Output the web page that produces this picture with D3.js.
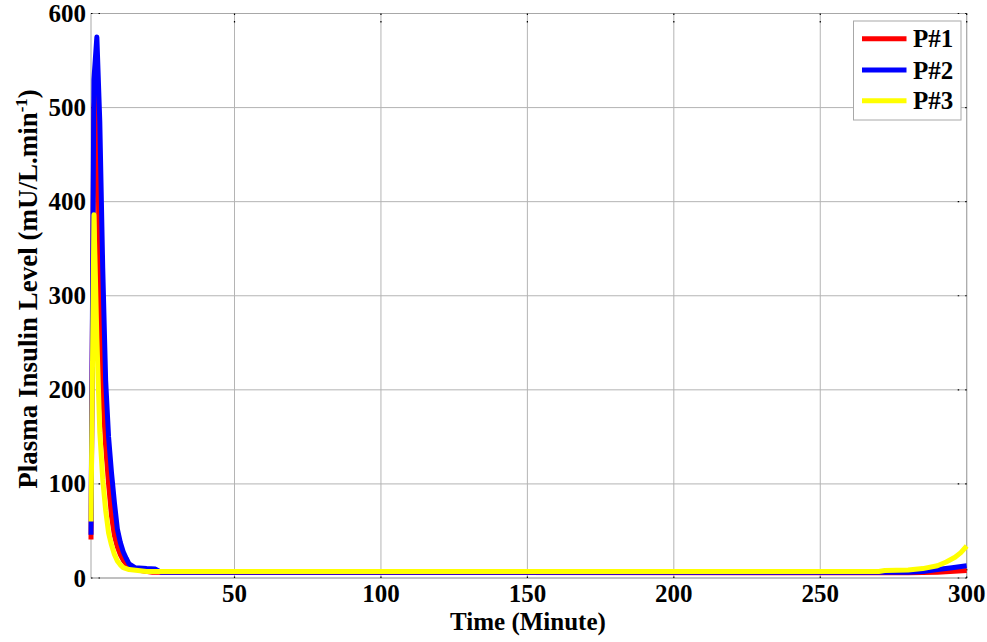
<!DOCTYPE html>
<html>
<head>
<meta charset="utf-8">
<script src="https://cdn.jsdelivr.net/npm/d3@7/dist/d3.min.js"></script>
<style>
  html, body { margin: 0; padding: 0; background: #fff; }
  svg { display: block; }
  text { font-family: "Liberation Serif", "Times New Roman", serif; font-weight: bold; fill: #000; }
</style>
</head>
<body>
<svg id="chart" width="987" height="642"></svg>
<script>
// ---- data ----
const seriesNames = ["P#1", "P#2", "P#3"];
const seriesColors = ["#ff0000", "#0000ff", "#ffff00"];

const timeP1   = [1, 2, 3, 4, 5, 6, 7, 8, 9, 10, 11, 12, 13, 15, 18, 22, 280, 290, 300];
const insulinP1 = [41, 500, 530, 300, 195, 140, 100, 66, 45, 33, 25, 19, 15, 11, 8, 6, 5.5, 6, 8];

const timeP2   = [1, 2, 3, 4, 5, 6, 7, 8, 9, 10, 11, 12, 13, 14, 16, 20, 23, 25, 280, 285, 290, 295, 300];
const insulinP2 = [46, 530, 575, 485, 330, 210, 150, 112, 80, 52, 38, 28, 21, 15, 11, 10, 9.5, 6, 6, 7, 9, 11, 13];

const timeP3   = [1, 2, 3, 4, 5, 6, 7, 8, 9, 10, 11, 12, 14, 17, 20, 270, 272, 280, 285, 290, 293, 296, 298, 300];
const insulinP3 = [60, 386, 255, 155, 105, 72, 48, 35, 25, 18, 14, 11, 9, 8, 7, 7, 8, 8.5, 10, 13, 17, 22, 27, 34];

const xTicks = [50, 100, 150, 200, 250, 300];
const yTicks = [0, 100, 200, 300, 400, 500, 600];
const xLabel = "Time (Minute)";
const yLabel = "Plasma Insulin Level (mU/L.min";

// ---- drawing ----
const svg = d3.select("#chart");
const x = d3.scaleLinear().domain([1, 300]).range([91, 966.7]);
const y = d3.scaleLinear().domain([0, 600]).range([578, 13.5]);

const gridColor = "#b4b4b4";

// grid
const grid = svg.append("g");
grid.selectAll("line.gx").data(xTicks).join("line")
  .attr("x1", d => x(d)).attr("x2", d => x(d))
  .attr("y1", y(0)).attr("y2", y(600))
  .attr("stroke", gridColor).attr("stroke-width", 1);
grid.selectAll("line.gy").data(yTicks).join("line")
  .attr("x1", x(1)).attr("x2", x(300))
  .attr("y1", d => y(d)).attr("y2", d => y(d))
  .attr("stroke", gridColor).attr("stroke-width", 1);

// axes box
svg.append("rect")
  .attr("x", x(1)).attr("y", y(600))
  .attr("width", x(300) - x(1)).attr("height", y(0) - y(600))
  .attr("fill", "none").attr("stroke", "#a8a8a8").attr("stroke-width", 1);

// inward ticks (dotted look)
const tickLen = 9;
const tg = svg.append("g").attr("stroke", "#000").attr("stroke-width", 1.2)
  .attr("stroke-dasharray", "1.5,6,1.5");
xTicks.forEach(t => {
  tg.append("line").attr("x1", x(t)).attr("x2", x(t)).attr("y1", y(0)).attr("y2", y(0) - tickLen);
  tg.append("line").attr("x1", x(t)).attr("x2", x(t)).attr("y1", y(600)).attr("y2", y(600) + tickLen);
});
yTicks.forEach(t => {
  tg.append("line").attr("x1", x(1)).attr("x2", x(1) + tickLen).attr("y1", y(t)).attr("y2", y(t));
  tg.append("line").attr("x1", x(300)).attr("x2", x(300) - tickLen).attr("y1", y(t)).attr("y2", y(t));
});

// data lines
const series = [
  { name: seriesNames[0], color: seriesColors[0], t: timeP1, v: insulinP1 },
  { name: seriesNames[1], color: seriesColors[1], t: timeP2, v: insulinP2 },
  { name: seriesNames[2], color: seriesColors[2], t: timeP3, v: insulinP3 }
];
const line = d3.line().x(d => x(d[0])).y(d => y(d[1])).curve(d3.curveLinear);
svg.append("g").selectAll("path").data(series).join("path")
  .attr("d", s => line(s.t.map((t, i) => [t, s.v[i]])))
  .attr("fill", "none")
  .attr("stroke", s => s.color)
  .attr("stroke-width", 5)
  .attr("stroke-linejoin", "round")
  .attr("stroke-linecap", "butt");

// tick labels
svg.append("g").selectAll("text").data(xTicks).join("text")
  .attr("x", d => x(d)).attr("y", 602)
  .attr("text-anchor", "middle").attr("font-size", 25)
  .text(d => d);
svg.append("g").selectAll("text").data(yTicks).join("text")
  .attr("x", 86).attr("y", d => y(d)).attr("dy", "0.34em")
  .attr("text-anchor", "end").attr("font-size", 25)
  .text(d => d);

// axis labels
svg.append("text")
  .attr("x", 528).attr("y", 630)
  .attr("text-anchor", "middle").attr("font-size", 25)
  .text(xLabel);

const yl = svg.append("text")
  .attr("transform", "translate(37,289) rotate(-90)")
  .attr("text-anchor", "middle").attr("font-size", 27);
yl.append("tspan").text(yLabel);
yl.append("tspan").attr("dy", -10).attr("font-size", 17).text("-1");
yl.append("tspan").attr("dy", 10).text(")");

// legend
const lg = svg.append("g");
lg.append("rect")
  .attr("x", 853.5).attr("y", 21).attr("width", 107.5).attr("height", 99)
  .attr("fill", "#fff").attr("stroke", "#a8a8a8").attr("stroke-width", 1);
const legendY = [38.7, 70, 100.7];
series.forEach((s, i) => {
  lg.append("line")
    .attr("x1", 862).attr("x2", 906.5)
    .attr("y1", legendY[i]).attr("y2", legendY[i])
    .attr("stroke", s.color).attr("stroke-width", 5);
  lg.append("text")
    .attr("x", 913).attr("y", legendY[i]).attr("dy", "0.34em")
    .attr("font-size", 25)
    .text(s.name);
});
</script>
</body>
</html>
